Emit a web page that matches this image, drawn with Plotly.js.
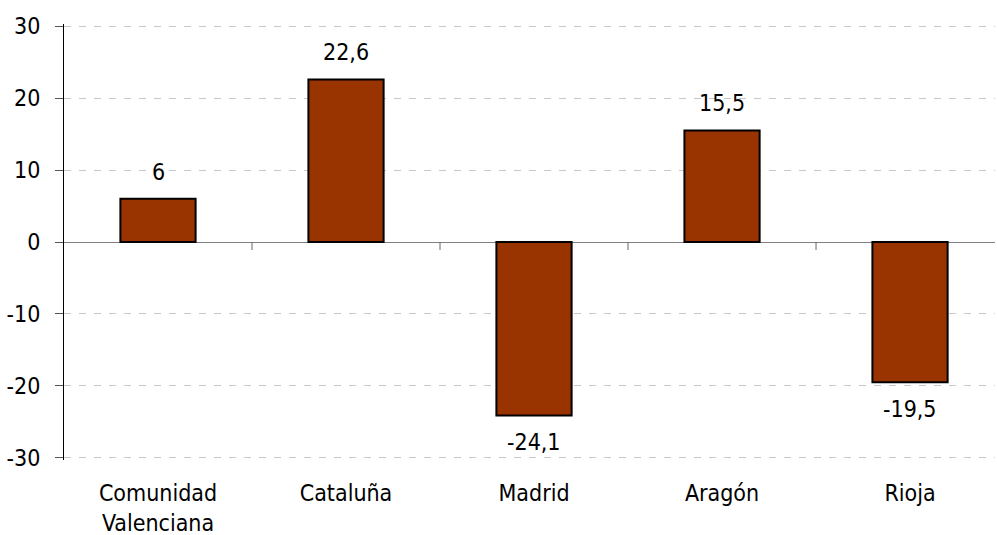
<!DOCTYPE html>
<html>
<head>
<meta charset="utf-8">
<script src="https://cdn.plot.ly/plotly-3.0.1.min.js"></script>
<style>html,body{margin:0;padding:0;background:#fff;}#chart{width:997px;height:535px;}</style>
</head>
<body>
<div id="chart"></div>
<script>
const categories = ["Comunidad<br>Valenciana", "Cataluña", "Madrid", "Aragón", "Rioja"];
const values = [6, 22.6, -24.1, 15.5, -19.5];
const yTicks = [-30, -20, -10, 0, 10, 20, 30];

const FONT = "DejaVu Sans Condensed, DejaVu Sans, sans-serif";
const FS = 23;
const labels = values.map(v => String(v).replace('.', ','));

const annotations = values.map((v, i) => ({
  x: categories[i], y: v, xref: 'x', yref: 'y',
  text: labels[i], showarrow: false,
  yanchor: 'middle', yshift: v >= 0 ? 27 : -27,
  font: {family: FONT, size: FS, color: '#000'}
}));

const shapes = categories.slice(1).map((c, i) => ({
  type: 'line', xref: 'x', yref: 'y', ysizemode: 'pixel', yanchor: 0,
  x0: i + 0.5, x1: i + 0.5, y0: 0, y1: -8,
  line: {color: '#666', width: 1}
}));

Plotly.newPlot('chart', [{
  type: 'bar',
  x: categories,
  y: values,
  width: 0.4,
  marker: {color: '#993300', line: {color: '#000', width: 2}},
  hoverinfo: 'none'
}], {
  width: 997, height: 535,
  margin: {l: 64, r: 2, t: 24, b: 75},
  paper_bgcolor: '#fff', plot_bgcolor: '#fff',
  showlegend: false,
  font: {family: FONT, size: FS, color: '#000'},
  xaxis: {
    type: 'category',
    range: [-0.5, 4.452],
    showline: false, showgrid: false, zeroline: false,
    ticks: 'outside', ticklen: 12, tickcolor: 'rgba(0,0,0,0)',
    tickfont: {family: FONT, size: FS, color: '#000'},
    fixedrange: true
  },
  yaxis: {
    range: [-30.3, 30.3],
    tickvals: yTicks,
    ticktext: yTicks.map(String),
    showline: true, linecolor: '#000', linewidth: 1,
    ticks: 'outside', ticklen: 8, tickcolor: '#555', tickwidth: 1,
    ticklabelstandoff: 10,
    showgrid: true, gridcolor: '#c8c8c8', gridwidth: 1, griddash: '7px,8px',
    zeroline: true, zerolinecolor: '#808080', zerolinewidth: 1,
    tickfont: {family: FONT, size: FS, color: '#000'},
    fixedrange: true
  },
  annotations: annotations,
  shapes: shapes
}, {displayModeBar: false, staticPlot: true});
</script>
</body>
</html>
